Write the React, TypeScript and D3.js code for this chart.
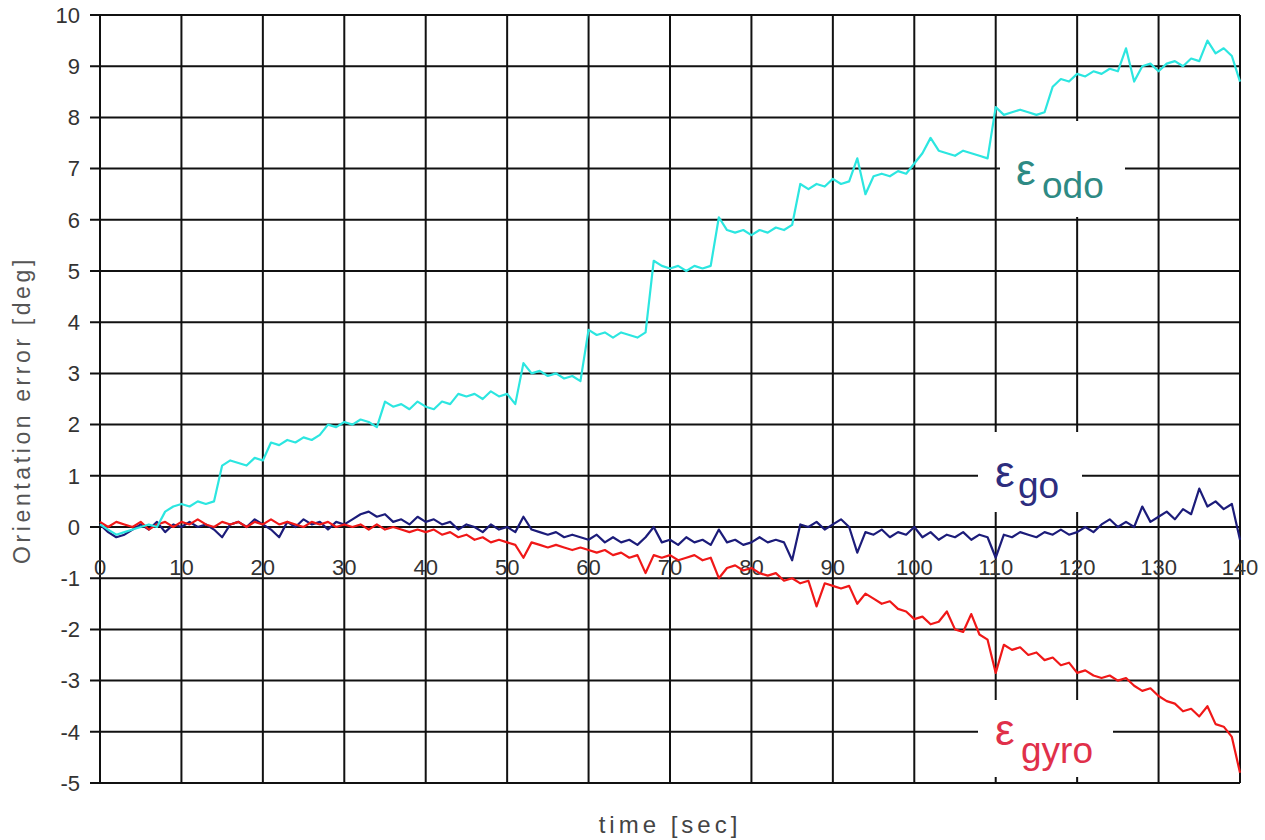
import React from "react";
import * as d3 from "d3";

const xTicks = [0, 10, 20, 30, 40, 50, 60, 70, 80, 90, 100, 110, 120, 130, 140];
const yTicks = [-5, -4, -3, -2, -1, 0, 1, 2, 3, 4, 5, 6, 7, 8, 9, 10];

// one sample per second, t = 0..140
const odo = [
  0.05, -0.05, -0.15, -0.1, -0.05, 0.0, 0.05, 0.0, 0.3, 0.4,
  0.45, 0.4, 0.5, 0.45, 0.5, 1.2, 1.3, 1.25, 1.2, 1.35,
  1.3, 1.65, 1.6, 1.7, 1.65, 1.75, 1.7, 1.8, 2.0, 1.95,
  2.05, 2.0, 2.1, 2.05, 1.95, 2.45, 2.35, 2.4, 2.3, 2.45,
  2.35, 2.3, 2.45, 2.4, 2.6, 2.55, 2.6, 2.5, 2.65, 2.55,
  2.6, 2.4, 3.2, 3.0, 3.05, 2.95, 3.0, 2.9, 2.95, 2.85,
  3.85, 3.75, 3.8, 3.7, 3.8, 3.75, 3.7, 3.8, 5.2, 5.1,
  5.05, 5.1, 5.0, 5.1, 5.05, 5.1, 6.05, 5.8, 5.75, 5.8,
  5.7, 5.8, 5.75, 5.85, 5.8, 5.9, 6.7, 6.6, 6.7, 6.65,
  6.8, 6.7, 6.75, 7.2, 6.5, 6.85, 6.9, 6.85, 6.95, 6.9,
  7.1, 7.3, 7.6, 7.35, 7.3, 7.25, 7.35, 7.3, 7.25, 7.2,
  8.2, 8.05, 8.1, 8.15, 8.1, 8.05, 8.1, 8.6, 8.75, 8.7,
  8.85, 8.8, 8.9, 8.85, 8.95, 8.9, 9.35, 8.7, 9.0, 9.05,
  8.9, 9.05, 9.1, 9.0, 9.15, 9.1, 9.5, 9.25, 9.35, 9.2,
  8.7,
];

const go = [
  0.05, -0.1, -0.2, -0.15, -0.05, 0.05, -0.05, 0.1, -0.1, 0.05,
  0.0, 0.1, 0.0, 0.05, -0.05, -0.2, 0.05, 0.1, 0.0, 0.15,
  0.05, -0.05, -0.2, 0.1, 0.0, 0.15, 0.05, 0.1, -0.05, 0.1,
  0.05, 0.15, 0.25, 0.3, 0.2, 0.25, 0.1, 0.15, 0.05, 0.2,
  0.1, 0.15, 0.05, 0.1, -0.05, 0.05, 0.0, -0.1, 0.05, -0.05,
  0.0, -0.1, 0.2, -0.05, -0.1, -0.15, -0.1, -0.2, -0.15, -0.2,
  -0.25, -0.15, -0.3, -0.2, -0.3, -0.25, -0.35, -0.2, 0.0, -0.3,
  -0.25, -0.35, -0.2, -0.3, -0.25, -0.35, -0.05, -0.3, -0.25, -0.35,
  -0.3, -0.2, -0.3, -0.25, -0.3, -0.65, 0.05, 0.0, 0.1, -0.05,
  0.05, 0.15, 0.0, -0.5, -0.1, -0.15, -0.05, -0.2, -0.1, -0.15,
  0.0, -0.2, -0.1, -0.25, -0.15, -0.2, -0.1, -0.25, -0.15, -0.2,
  -0.6, -0.15, -0.2, -0.1, -0.15, -0.2, -0.1, -0.15, -0.05, -0.15,
  -0.1, 0.0, -0.1, 0.05, 0.15, 0.0, 0.1, 0.0, 0.4, 0.1,
  0.2, 0.3, 0.15, 0.35, 0.25, 0.75, 0.4, 0.5, 0.35, 0.45,
  -0.25,
];

const gyro = [
  0.1, 0.0, 0.1, 0.05, 0.0, 0.1, -0.05, 0.05, 0.1, 0.0,
  0.1, 0.05, 0.15, 0.05, 0.0, 0.1, 0.05, 0.1, 0.0, 0.1,
  0.05, 0.15, 0.05, 0.1, 0.05, 0.0, 0.1, 0.05, 0.1, 0.0,
  0.05, 0.0, 0.05, -0.05, 0.05, -0.05, 0.0, -0.05, -0.1, -0.05,
  -0.1, -0.05, -0.15, -0.1, -0.2, -0.15, -0.25, -0.2, -0.3, -0.25,
  -0.3, -0.35, -0.6, -0.3, -0.35, -0.4, -0.35, -0.4, -0.45, -0.4,
  -0.45, -0.5, -0.45, -0.55, -0.5, -0.6, -0.55, -0.9, -0.55, -0.6,
  -0.55, -0.65, -0.6, -0.55, -0.65, -0.6, -1.0, -0.8, -0.75, -0.85,
  -0.8, -0.9, -0.95, -0.9, -1.05, -1.0, -1.1, -1.05, -1.55, -1.1,
  -1.15, -1.2, -1.15, -1.5, -1.3, -1.4, -1.5, -1.45, -1.6, -1.65,
  -1.8, -1.75, -1.9, -1.85, -1.65, -2.0, -2.05, -1.7, -2.1, -2.2,
  -2.85, -2.3, -2.4, -2.35, -2.5, -2.45, -2.6, -2.55, -2.7, -2.65,
  -2.85, -2.8, -2.9, -2.95, -2.9, -3.0, -2.95, -3.1, -3.2, -3.15,
  -3.3, -3.4, -3.45, -3.6, -3.55, -3.7, -3.5, -3.85, -3.9, -4.1,
  -4.8,
];

const W = 1265;
const H = 840;
const FONT = "'Liberation Sans', Arial, sans-serif";

export default function App() {
  const x = d3.scaleLinear().domain([0, 140]).range([100, 1240]);
  const y = d3.scaleLinear().domain([-5, 10]).range([783, 15]);
  const line = d3
    .line<number>()
    .x((_, i) => x(i))
    .y((d) => y(d));

  const series = [
    { data: go, color: "#1c1c7a" },
    { data: gyro, color: "#f01818" },
    { data: odo, color: "#2ce6e0" },
  ];

  return (
    <svg
      width={W}
      height={H}
      style={{ position: "absolute", left: 0, top: 0, background: "#fff" }}
      fontFamily={FONT}
    >
      {/* grid */}
      {yTicks.map((t) => (
        <line key={"h" + t} x1={90} x2={1240} y1={y(t)} y2={y(t)} stroke="#111" strokeWidth={2} />
      ))}
      {xTicks.map((t) => (
        <line key={"v" + t} x1={x(t)} x2={x(t)} y1={15} y2={783} stroke="#111" strokeWidth={2} />
      ))}

      {/* label background boxes */}
      <rect x={1000} y={121} width={125} height={96} fill="#fff" />
      <rect x={978} y={432} width={104} height={80} fill="#fff" />
      <rect x={978} y={700} width={135} height={77} fill="#fff" />

      {/* y tick labels */}
      {yTicks.map((t) => (
        <text key={"yl" + t} x={80} y={y(t)} dy="0.35em" textAnchor="end" fontSize={22} fill="#333">
          {t}
        </text>
      ))}
      {/* x tick labels */}
      {xTicks.map((t) => (
        <text key={"xl" + t} x={x(t)} y={575} textAnchor="middle" fontSize={22} fill="#333">
          {t}
        </text>
      ))}

      {/* data */}
      {series.map((s, i) => (
        <path key={i} d={line(s.data) || ""} fill="none" stroke={s.color} strokeWidth={2.2} strokeLinejoin="round" />
      ))}

      {/* series labels */}
      <text x={1016} y={185} fontSize={44} fill="#2e8a84">ε</text>
      <text x={1042} y={198} fontSize={37} fill="#2e8a84">odo</text>
      <text x={995} y={487} fontSize={44} fill="#2d2d7e">ε</text>
      <text x={1018} y={498} fontSize={37} fill="#2d2d7e">go</text>
      <text x={995} y={745} fontSize={44} fill="#e0304a">ε</text>
      <text x={1021} y={763} fontSize={37} fill="#e0304a">gyro</text>

      {/* axis titles */}
      <text
        transform={`translate(30, 410) rotate(-90)`}
        textAnchor="middle"
        fontSize={23}
        letterSpacing={3.6}
        fill="#555"
      >
        Orientation error [deg]
      </text>
      <text x={670} y={833} textAnchor="middle" fontSize={24} letterSpacing={4} fill="#444">
        time [sec]
      </text>
    </svg>
  );
}
